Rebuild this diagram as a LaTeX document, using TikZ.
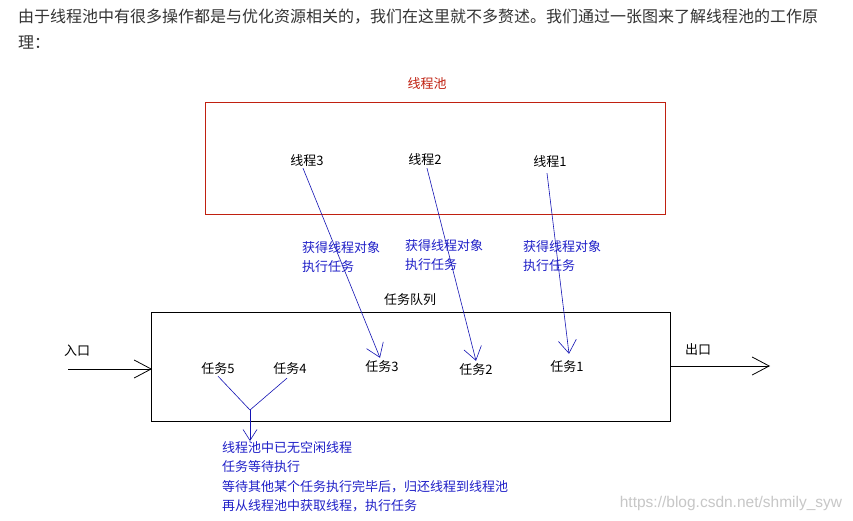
\documentclass[tikz,border=0pt]{standalone}
\usepackage{fontspec}
\setmainfont{Noto Sans CJK SC}
\newfontfamily\wmfont{Liberation Sans}
\usetikzlibrary{arrows.meta,calc}
\definecolor{poolred}{RGB}{192,32,16}
\definecolor{lineblue}{RGB}{20,20,180}
\definecolor{txtblue}{RGB}{32,32,200}
\definecolor{hdr}{RGB}{51,51,51}
\begin{document}
\begin{tikzpicture}[x=1pt,y=-1pt,
  lbl/.style={font=\fontsize{13}{16}\selectfont, inner sep=1pt, text=black},
  bluelbl/.style={font=\fontsize{13}{19.5}\selectfont, inner sep=0pt, text=txtblue, align=left, anchor=west},
  hdrtext/.style={font=\fontsize{16}{20}\selectfont, inner sep=0pt, text=hdr, anchor=west},
  blackarrow/.style={draw=black, line width=0.8pt, -{Straight Barb[length=17pt,width=18pt]}},
  bluearrow/.style={draw=lineblue, line width=0.6pt, -{Straight Barb[length=13pt,width=18pt]}},
  blueline/.style={draw=lineblue, line width=0.6pt},
  boxline/.style={draw=black, line width=0.9pt}]
\useasboundingbox (0,0) rectangle (853,521);
\fill[white] (0,0) rectangle (853,521);

% header text
\node[hdrtext] (h1) at (18,17) {由于线程池中有很多操作都是与优化资源相关的，我们在这里就不多赘述。我们通过一张图来了解线程池的工作原};
\node[hdrtext] (h2) at (18,43) {理：};

% thread pool
\node[lbl, text=poolred] (pooltitle) at (427,84) {线程池};
\draw[draw=poolred, line width=1pt] (205,103) rectangle (665,215);
\node[lbl] (t3) at (307,161) {线程3};
\node[lbl] (t2) at (425,160) {线程2};
\node[lbl] (t1) at (550,162) {线程1};

% labels between
\node[bluelbl] (g3) at (302,257) {获得线程对象\\执行任务};
\node[bluelbl] (g2) at (405,255) {获得线程对象\\执行任务};
\node[bluelbl] (g1) at (523,256) {获得线程对象\\执行任务};

% task queue
\node[lbl] (qtitle) at (410,300) {任务队列};
\draw[boxline] (151,312) rectangle (670,421);
\node[lbl] (k5) at (218,369) {任务5};
\node[lbl] (k4) at (290,369) {任务4};
\node[lbl] (k3) at (382,367) {任务3};
\node[lbl] (k2) at (476,370) {任务2};
\node[lbl] (k1) at (567,367) {任务1};

% thread -> task arrows
\draw[bluearrow] ([xshift=-4pt]t3.south) -- ([xshift=-2pt,yshift=2pt]k3.north);
\draw[bluearrow] ([xshift=2pt,yshift=-1pt]t2.south) -- ([yshift=2pt]k2.north);
\draw[bluearrow] ([xshift=-3pt,yshift=-4pt]t1.south) -- ([xshift=2pt,yshift=6pt]k1.north);

% entry / exit
\node[lbl] (in) at (77,351) {入口};
\node[lbl] (out) at (698,350) {出口};
\coordinate (instart) at (68,369);
\coordinate (intip) at (152,369);
\coordinate (outstart) at (670,366);
\coordinate (outtip) at (770,366);
\draw[blackarrow] (instart) -- (intip);
\draw[blackarrow] (outstart) -- (outtip);

% waiting fork
\coordinate (j) at (250,410);
\draw[blueline] (k5.south) -- (j);
\draw[blueline] ([xshift=-3pt,yshift=-2pt]k4.south) -- (j);
\node[bluelbl, anchor=north west] (note) at (222,441) {线程池中已无空闲线程\\任务等待执行\\等待其他某个任务执行完毕后，归还线程到线程池\\再从线程池中获取线程，执行任务};
\draw[bluearrow, -{Straight Barb[length=11pt,width=14pt]}] (j) -- (j |- note.north);

% watermark
\node[inner sep=0pt, text=black!22, font=\wmfont\fontsize{15.5}{18}\selectfont] (wm) at (731,503) {https://blog.csdn.net/shmily\_syw};
\end{tikzpicture}
\end{document}
